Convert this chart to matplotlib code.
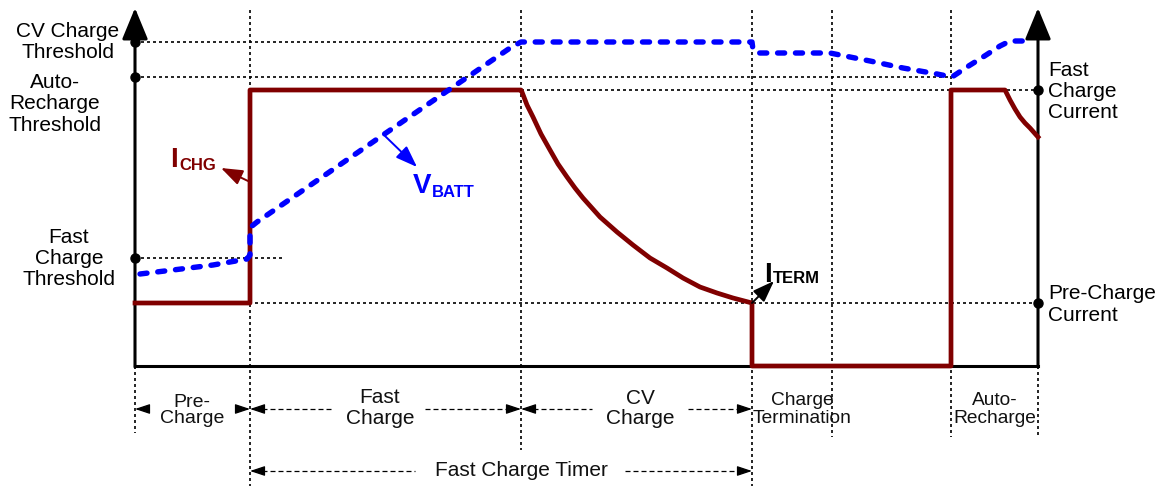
import matplotlib.pyplot as plt

plt.rcParams['font.family'] = ['Liberation Sans', 'DejaVu Sans']

# schematic coordinates (time runs right, level runs down like the drawing)
phase_t = [135, 250, 521, 752, 832, 951, 1038]  # axis, fast, cv, term, mid-term, recharge, axis
y_cv_thr = 42
y_auto_thr = 77
y_fast_cur = 90
y_fast_thr = 258
y_pre_cur = 303
y_zero = 366

# charge current trace
ichg_t = [135, 250, 250, 521, 522, 527, 533, 541, 550, 558, 567, 575, 583, 600, 617, 633,
          650, 667, 683, 700, 717, 733, 752, 752, 951, 951, 1005, 1010, 1015, 1020, 1025,
          1030, 1038]
ichg_y = [303, 303, 90, 90, 92, 105, 117, 134, 150, 164, 177, 188, 198, 217, 232, 245,
          258, 268, 278, 287, 293, 298, 303, 366, 366, 90, 90, 100, 109, 117, 123,
          128, 137]

# battery voltage trace
vbatt_t = [140, 173, 213, 247, 250, 250, 252, 257, 383, 510, 521, 752, 753, 758, 830,
           845, 870, 903, 937, 952, 967, 983, 1000, 1010, 1030]
vbatt_y = [274, 270, 265, 259, 255, 232, 226, 222, 135, 48, 42, 42, 50, 53, 53,
           56, 61, 68, 74, 77, 67, 57, 46, 41, 41]

left_labels = [(["CV Charge", "Threshold"], 68, [37, 58]),
               (["Auto-", "Recharge", "Threshold"], 55, [88, 109, 131]),
               (["Fast", "Charge", "Threshold"], 69, [243, 264, 285])]
right_labels = [(["Fast", "Charge", "Current"], [76, 97, 118]),
                (["Pre-Charge", "Current"], [299, 321])]
phase_labels = [(["Pre-", "Charge"], 192, [407, 423], 14),
                (["Fast", "Charge"], 380, [403, 424], 15),
                (["CV", "Charge"], 640, [404, 424], 15),
                (["Charge", "Termination"], 802, [405, 423], 13.8),
                (["Auto-", "Recharge"], 995, [405, 423], 13.8)]

RED = '#800000'
BLUE = '#0000ff'
dot = dict(color='black', lw=1.2, ls=(0, (1.8, 1.8)), zorder=1)
dash = dict(color='black', lw=0.9, ls=(0, (4, 2.4)), zorder=1)

fig = plt.figure(figsize=(11.6, 4.86), dpi=100)
ax = fig.add_axes([0, 0, 1, 1])
ax.set_xlim(0, 1160)
ax.set_ylim(486, 0)
ax.axis('off')

# guide lines
ax.plot([phase_t[0], phase_t[2]], [y_cv_thr, y_cv_thr], **dot)
ax.plot([phase_t[0], phase_t[5]], [y_auto_thr, y_auto_thr], **dot)
ax.plot([phase_t[2], phase_t[6]], [y_fast_cur, y_fast_cur], **dot)
ax.plot([phase_t[0], 285], [y_fast_thr, y_fast_thr], **dot)
ax.plot([237, phase_t[6]], [y_pre_cur, y_pre_cur], **dot)

v_bottoms = [433, 486, 450, 486, 437, 437, 437]
for i, t in enumerate(phase_t):
    top = y_zero if i in (0, 6) else 10
    ax.plot([t, t], [top, v_bottoms[i]], **dot)

# axes with arrow heads
for t in (phase_t[0], phase_t[6]):
    ax.annotate('', xy=(t, 8), xytext=(t, y_zero + 1),
                arrowprops=dict(arrowstyle='-|>,head_length=0.97,head_width=0.4',
                                mutation_scale=20, color='black', lw=2.2,
                                shrinkA=0, shrinkB=0), zorder=4)
ax.plot([phase_t[0], phase_t[6]], [y_zero, y_zero], color='black', lw=2.2,
        solid_capstyle='projecting', zorder=3)
ax.plot([phase_t[0]] * 3, [y_cv_thr, y_auto_thr, y_fast_thr], 'o', color='black', ms=6.5, zorder=6)
ax.plot([phase_t[6]] * 2, [y_fast_cur, y_pre_cur], 'o', color='black', ms=6.5, zorder=6)

# traces
ax.plot(ichg_t, ichg_y, color=RED, lw=3.4, solid_joinstyle='round', zorder=4)
ax.plot(vbatt_t, vbatt_y, color=BLUE, lw=3.9, ls=(0, (1.3, 2.0)),
        dash_capstyle='round', dash_joinstyle='round', zorder=5)

# trace labels
def pointer(tail, tip, color):
    ax.annotate('', xy=tip, xytext=tail,
                arrowprops=dict(arrowstyle='-|>,head_length=1.1,head_width=0.4',
                                mutation_scale=12, color=color, lw=1.4,
                                shrinkA=0, shrinkB=0), zorder=7)

ax.text(170, 167, 'I', color=RED, fontsize=20, fontweight='bold')
ax.text(179, 170, 'CHG', color=RED, fontsize=12, fontweight='bold')
pointer((248, 181), (221, 168), RED)

ax.text(413, 193, 'V', color=BLUE, fontsize=20, fontweight='bold')
ax.text(432, 197, 'BATT', color=BLUE, fontsize=12, fontweight='bold')
pointer((385, 136), (417, 167), BLUE)

ax.text(764, 282, 'I', color='black', fontsize=20, fontweight='bold')
ax.text(773, 283, 'TERM', color='black', fontsize=12, fontweight='bold')
pointer((752, 303), (774, 281), 'black')

# level labels
for lines, cx, bases in left_labels:
    for s, b in zip(lines, bases):
        ax.text(cx, b, s, ha='center', va='baseline', fontsize=15)
for lines, bases in right_labels:
    for s, b in zip(lines, bases):
        ax.text(1048, b, s, ha='left', va='baseline', fontsize=15)

# phase labels
for lines, cx, bases, fs in phase_labels:
    for s, b in zip(lines, bases):
        ax.text(cx, b, s, ha='center', va='baseline', fontsize=fs, color='#111111')
ax.text(521, 476, 'Fast Charge Timer', ha='center', va='baseline', fontsize=15, color='#111111')

def head(tip, direction, y):
    ax.annotate('', xy=(tip, y), xytext=(tip + 13 * direction, y),
                arrowprops=dict(arrowstyle='-|>,head_length=0.9,head_width=0.3',
                                mutation_scale=10, color='black', lw=0.9,
                                shrinkA=0, shrinkB=0), zorder=2)

y_ph = 409
head(phase_t[0], 1, y_ph); head(phase_t[1], -1, y_ph)
head(phase_t[1], 1, y_ph); head(phase_t[2], -1, y_ph)
head(phase_t[2], 1, y_ph); head(phase_t[3], -1, y_ph)
ax.plot([262, 333], [y_ph, y_ph], **dash)
ax.plot([425, 509], [y_ph, y_ph], **dash)
ax.plot([533, 592], [y_ph, y_ph], **dash)
ax.plot([688, 740], [y_ph, y_ph], **dash)

y_tm = 471
head(phase_t[1], 1, y_tm); head(phase_t[3], -1, y_tm)
ax.plot([262, 415], [y_tm, y_tm], **dash)
ax.plot([625, 740], [y_tm, y_tm], **dash)

fig.savefig('out.png', dpi=100)
